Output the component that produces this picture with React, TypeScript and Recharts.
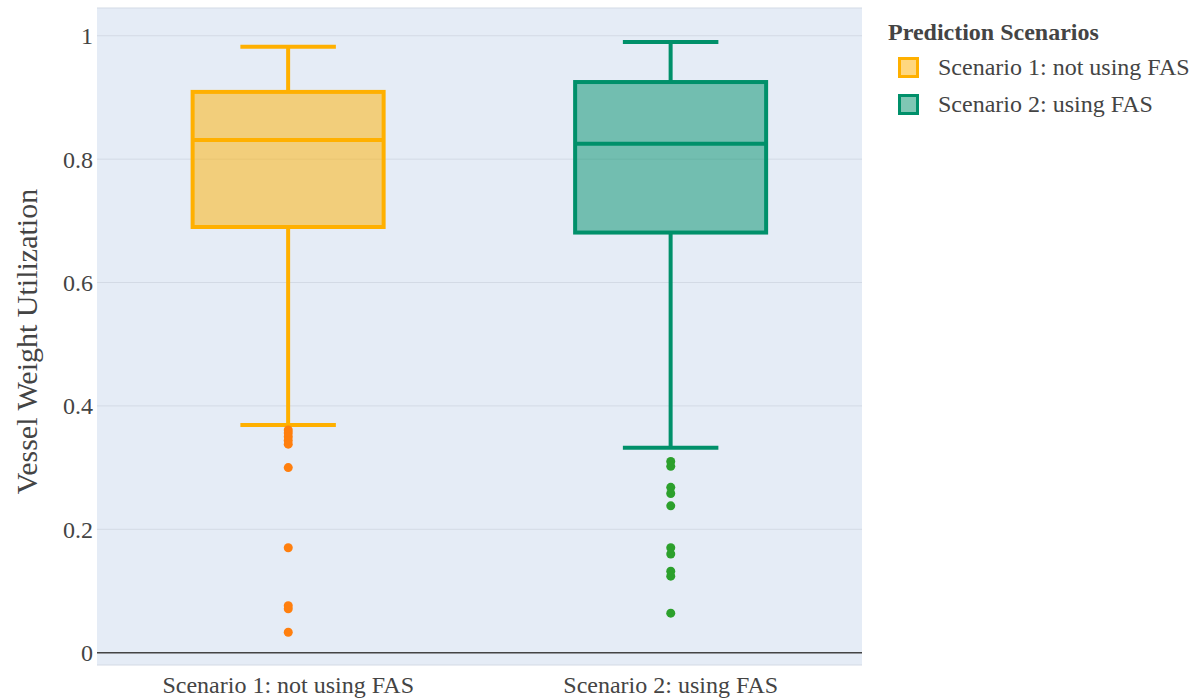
import React from 'react';
import {
  ComposedChart, Bar, Scatter, XAxis, YAxis, CartesianGrid, ReferenceLine,
} from 'recharts';

const categories = ['Scenario 1: not using FAS', 'Scenario 2: using FAS'];
const lowerWhisker = [0.369, 0.332];
const q1Values = [0.69, 0.681];
const medianValues = [0.831, 0.825];
const q3Values = [0.909, 0.925];
const upperWhisker = [0.982, 0.99];
const outliers1 = [0.361, 0.356, 0.35, 0.344, 0.338, 0.3, 0.17, 0.076, 0.071, 0.033];
const outliers2 = [0.31, 0.302, 0.268, 0.258, 0.238, 0.17, 0.16, 0.132, 0.124, 0.064];
const yTicks = [0, 0.2, 0.4, 0.6, 0.8, 1];
const legendTitle = 'Prediction Scenarios';

const strokeColors = ['#FFB000', '#00906A'];
const outlierColors = ['#FF7F0E', '#2CA02C'];
const FONT = '"Liberation Serif", "Times New Roman", serif';

const data = categories.map((name, i) => ({
  name,
  range: [lowerWhisker[i], upperWhisker[i]],
  lo: lowerWhisker[i],
  q1: q1Values[i],
  median: medianValues[i],
  q3: q3Values[i],
  hi: upperWhisker[i],
  idx: i,
}));

const out1Data = outliers1.map((v) => ({ name: categories[0], v }));
const out2Data = outliers2.map((v) => ({ name: categories[1], v }));

const BoxShape = (props: any) => {
  const { x, y, width, height, payload } = props;
  const p = payload || props;
  const top = Math.min(y, y + height);
  const bottom = Math.max(y, y + height);
  const span = p.hi - p.lo;
  const pix = (v: number) => top + (bottom - top) * (p.hi - v) / span;
  const color = strokeColors[p.idx];
  const cx = x + width / 2;
  const capW = width / 2;
  const sw = 4;
  return (
    <g>
      <line x1={cx} x2={cx} y1={pix(p.hi)} y2={pix(p.q3)} stroke={color} strokeWidth={sw} />
      <line x1={cx} x2={cx} y1={pix(p.q1)} y2={pix(p.lo)} stroke={color} strokeWidth={sw} />
      <line x1={cx - capW / 2} x2={cx + capW / 2} y1={pix(p.hi)} y2={pix(p.hi)} stroke={color} strokeWidth={sw} />
      <line x1={cx - capW / 2} x2={cx + capW / 2} y1={pix(p.lo)} y2={pix(p.lo)} stroke={color} strokeWidth={sw} />
      <rect x={x} y={pix(p.q3)} width={width} height={pix(p.q1) - pix(p.q3)} fill={color} fillOpacity={0.5} stroke={color} strokeWidth={sw} />
      <line x1={x} x2={x + width} y1={pix(p.median)} y2={pix(p.median)} stroke={color} strokeWidth={sw} />
    </g>
  );
};

const OutlierDot = (color: string) => (props: any) => {
  const { cx, cy } = props;
  return <circle cx={cx} cy={cy} r={4.5} fill={color} />;
};

const LegendOverlay = () => (
  <svg width={320} height={130} style={{ position: 'absolute', left: 880, top: 0 }}>
    <text x={8} y={40} fontFamily={FONT} style={{ fontFamily: FONT }} fontSize={24} fontWeight="bold" fill="#444">
      {legendTitle}
    </text>
    {categories.map((c, i) => (
      <g key={c}>
        <rect x={19.5} y={58.5 + i * 37} width={18} height={18} fill={strokeColors[i]} fillOpacity={0.5}
          stroke={strokeColors[i]} strokeWidth={3} />
        <text x={58} y={75 + i * 37} fontFamily={FONT} style={{ fontFamily: FONT }} fontSize={24} fill="#444">{c}</text>
      </g>
    ))}
  </svg>
);

const YLabel = (props: any) => {
  const { viewBox } = props;
  const cy = viewBox.y + viewBox.height / 2 + 5;
  const cx = 26;
  return (
    <text x={cx} y={cy} transform={`rotate(-90, ${cx}, ${cy})`} textAnchor="middle" dominantBaseline="central"
      fontFamily={FONT} style={{ fontFamily: FONT }} fontSize={30} fill="#444">
      Vessel Weight Utilization
    </text>
  );
};

const tickStyle = { fontFamily: FONT, fontSize: 24, fill: '#444', style: { fontFamily: FONT } };

export default function App() {
  return (
    <div style={{ position: 'absolute', left: 0, top: 0, width: 1200, height: 698, background: '#fff' }}>
      <ComposedChart
        width={1200}
        height={698}
        data={data}
        margin={{ top: 8, right: 338, left: 0, bottom: 0 }}
        barCategoryGap="25%"
      >
        <CartesianGrid vertical={false} fill="#E5ECF6" stroke="#D3DAE5" strokeWidth={1} />
        <XAxis
          dataKey="name"
          type="category"
          allowDuplicatedCategory={false}
          axisLine={false}
          tickLine={false}
          tickSize={0}
          tickMargin={11}
          height={33}
          tick={tickStyle}
        />
        <YAxis
          type="number"
          domain={[-0.02, 1.045]}
          ticks={yTicks}
          allowDataOverflow
          axisLine={false}
          tickLine={false}
          tickSize={2}
          tickMargin={2}
          width={97}
          tick={tickStyle}
          label={<YLabel />}
        />
        <ReferenceLine y={0} stroke="#444" strokeWidth={1.5} />
        <Bar dataKey="range" shape={<BoxShape />} isAnimationActive={false} legendType="none" />
        <Scatter data={out1Data} dataKey="v" shape={OutlierDot(outlierColors[0])} isAnimationActive={false} legendType="none" />
        <Scatter data={out2Data} dataKey="v" shape={OutlierDot(outlierColors[1])} isAnimationActive={false} legendType="none" />
      </ComposedChart>
      <LegendOverlay />
    </div>
  );
}
